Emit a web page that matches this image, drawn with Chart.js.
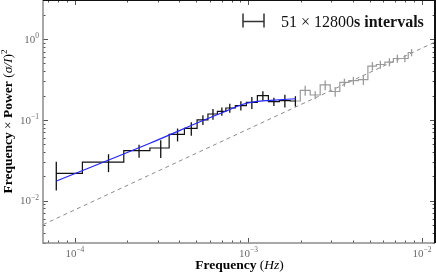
<!DOCTYPE html>
<html>
<head>
<meta charset="utf-8">
<script src="https://cdn.jsdelivr.net/npm/chart.js@4.4.1/dist/chart.umd.min.js"></script>
<style>
  html, body { margin: 0; padding: 0; background: #fff; }
  #wrap { width: 436px; height: 274px; }
</style>
</head>
<body>
<div id="wrap"><canvas id="psd" width="436" height="274"></canvas></div>
<script>
// binned power spectrum (freq * power), black = fitted range, grey = above it
const freqFit = [7.8125e-5, 1.5625e-4, 2.34375e-4, 3.125e-4, 3.90625e-4, 4.6875e-4, 5.46875e-4, 6.25e-4,
  7.03125e-4, 7.8125e-4, 9.05e-4, 1.047e-3, 1.212e-3, 1.403e-3, 1.623e-3, 1.866e-3];
const powerFit = [0.0218, 0.030, 0.0415, 0.0448, 0.066, 0.0785, 0.100, 0.118,
  0.127, 0.140, 0.150, 0.164, 0.199, 0.168, 0.173, 0.171];
const errFit = [0.0085, 0.0075, 0.0075, 0.011, 0.012, 0.015, 0.014, 0.018,
  0.015, 0.018, 0.02, 0.028, 0.027, 0.02, 0.031, 0.025];

const freqHigh = [1.866e-3, 2.125e-3, 2.427e-3, 2.771e-3, 3.165e-3, 3.576e-3, 4.028e-3, 4.60e-3,
  5.185e-3, 5.765e-3, 6.497e-3, 7.224e-3, 7.98e-3, 8.72e-3];
const powerHigh = [0.171, 0.231, 0.203, 0.270, 0.224, 0.290, 0.306, 0.315,
  0.463, 0.484, 0.519, 0.574, 0.574, 0.681];
const errHigh = [null, 0.033, 0.023, 0.037, 0.031, 0.033, 0.035, 0.045,
  0.055, 0.055, 0.06, 0.065, 0.06, 0.07];

// model fit (blue)
const modelFreq = [7.84e-5, 2.705e-4, 5.47e-4, 7.54e-4, 9.2e-4, 1.097e-3, 1.339e-3, 1.878e-3];
const modelPower = [0.0175, 0.0512, 0.098, 0.130, 0.1546, 0.168, 0.174, 0.1824];

// poisson noise level: f*P = noiseNorm * f
const noiseNorm = 77;

const xRange = [6.55e-5, 1.19e-2];
const yRange = [0.00299, 3.04];
const xTicks = [1e-4, 1e-3, 1e-2];
const xTickExp = ['\u22124', '\u22123', '\u22122'];
const yTicks = [1e-2, 1e-1, 1];
const yTickExp = ['\u22122', '\u22121', '0'];

const SERIF = '"Liberation Serif", "DejaVu Serif", serif';

function pts(xs, ys) {
  return xs.map((v, i) => ({ x: v, y: ys[i] }));
}

function rich(ctx, parts, x, y, align) {
  let w = 0;
  parts.forEach(p => { ctx.font = p.f; p.w = ctx.measureText(p.t).width; w += p.w; });
  let cx = align === 'center' ? x - w / 2 : (align === 'right' ? x - w : x);
  parts.forEach(p => {
    ctx.font = p.f;
    ctx.fillText(p.t, cx, y + (p.dy || 0));
    cx += p.w;
  });
}

function minorTicks(lo, hi) {
  const out = [];
  for (let d = Math.floor(Math.log10(lo)); d <= Math.ceil(Math.log10(hi)); d++) {
    for (let m = 2; m <= 9; m++) {
      const v = m * Math.pow(10, d);
      if (v > lo && v < hi) out.push(v);
    }
  }
  return out;
}

const decor = {
  id: 'decor',
  afterDatasetDraw(chart, args) {
    const ds = chart.data.datasets[args.index];
    if (!ds.errors) return;
    const { ctx, chartArea: a, scales: { x, y } } = chart;
    ctx.save();
    ctx.beginPath();
    ctx.rect(a.left, a.top, a.right - a.left, a.bottom - a.top);
    ctx.clip();
    ctx.strokeStyle = ds.borderColor;
    ctx.lineWidth = 1.3;
    ds.data.forEach((p, i) => {
      const e = ds.errors[i];
      if (e == null) return;
      const px = x.getPixelForValue(p.x);
      ctx.beginPath();
      ctx.moveTo(px, y.getPixelForValue(p.y - e));
      ctx.lineTo(px, y.getPixelForValue(p.y + e));
      ctx.stroke();
    });
    ctx.restore();
  },
  afterDraw(chart) {
    const { ctx, chartArea: a, scales: { x, y } } = chart;
    ctx.save();

    // ticks, inside on all four sides
    ctx.strokeStyle = '#555';
    ctx.lineWidth = 1;
    const tickX = (v, len) => {
      const px = Math.round(x.getPixelForValue(v)) + 0.5;
      ctx.beginPath();
      ctx.moveTo(px, a.bottom); ctx.lineTo(px, a.bottom - len);
      ctx.moveTo(px, a.top); ctx.lineTo(px, a.top + len);
      ctx.stroke();
    };
    const tickY = (v, len) => {
      const py = Math.round(y.getPixelForValue(v)) + 0.5;
      ctx.beginPath();
      ctx.moveTo(a.left, py); ctx.lineTo(a.left + len, py);
      ctx.moveTo(a.right, py); ctx.lineTo(a.right - len, py);
      ctx.stroke();
    };
    xTicks.forEach(v => tickX(v, 5));
    minorTicks(xRange[0], xRange[1]).forEach(v => tickX(v, 2.5));
    yTicks.forEach(v => tickY(v, 5));
    minorTicks(yRange[0], yRange[1]).forEach(v => tickY(v, 2.5));

    // spines
    ctx.lineWidth = 1.5;
    ctx.strokeStyle = '#8c8c8c';
    ctx.beginPath();
    ctx.moveTo(a.left, a.top); ctx.lineTo(a.left, a.bottom); ctx.lineTo(a.right, a.bottom);
    ctx.stroke();
    ctx.lineWidth = 2;
    ctx.strokeStyle = '#111';
    ctx.beginPath();
    ctx.moveTo(a.left, a.top); ctx.lineTo(a.right, a.top); ctx.lineTo(a.right, a.bottom);
    ctx.stroke();

    // tick labels
    ctx.fillStyle = '#6a6a6a';
    ctx.textBaseline = 'alphabetic';
    const base = '11px ' + SERIF, sup = '7.5px ' + SERIF;
    xTicks.forEach((v, i) => {
      rich(ctx, [{ t: '10', f: base }, { t: xTickExp[i], f: sup, dy: -4.5 }],
        x.getPixelForValue(v), 256.5, 'center');
    });
    yTicks.forEach((v, i) => {
      const py = y.getPixelForValue(v);
      rich(ctx, [{ t: '10', f: base }, { t: yTickExp[i], f: sup, dy: -4.5 }],
        a.left - 4, py + 3.8, 'right');
    });

    // axis titles
    ctx.fillStyle = '#000';
    const b = 'bold 13.5px ' + SERIF, r = '13.5px ' + SERIF, it = 'italic 13.5px ' + SERIF;
    rich(ctx, [{ t: 'Frequency', f: b }, { t: ' (', f: r }, { t: 'Hz', f: it }, { t: ')', f: r }],
      (a.left + a.right) / 2 + 0.5, 269, 'center');
    ctx.save();
    ctx.translate(11.5, (a.top + a.bottom) / 2);
    ctx.rotate(-Math.PI / 2);
    rich(ctx, [{ t: 'Frequency', f: b }, { t: ' \u00d7 ', f: r }, { t: 'Power', f: b },
      { t: ' (', f: r }, { t: '\u03c3/I', f: it }, { t: ')', f: r }, { t: '2', f: '9px ' + SERIF, dy: -5 }],
      0, 0, 'center');
    ctx.restore();

    // legend
    ctx.strokeStyle = '#333';
    ctx.lineWidth = 1.5;
    ctx.beginPath();
    ctx.moveTo(243, 21.5); ctx.lineTo(264, 21.5);
    ctx.moveTo(243, 13.5); ctx.lineTo(243, 27.5);
    ctx.moveTo(264, 13.5); ctx.lineTo(264, 27.5);
    ctx.stroke();
    ctx.fillStyle = '#111';
    rich(ctx, [{ t: '51 \u00d7 12800', f: '16px ' + SERIF }, { t: 's intervals', f: 'bold 16px ' + SERIF }],
      281, 26.5, 'left');

    ctx.restore();
  }
};

new Chart(document.getElementById('psd'), {
  type: 'line',
  data: {
    datasets: [
      {
        data: pts(modelFreq, modelPower),
        borderColor: '#2424ff',
        borderWidth: 1.2,
        pointRadius: 0,
        cubicInterpolationMode: 'monotone',
        order: 0
      },
      {
        data: pts(freqFit, powerFit),
        errors: errFit,
        borderColor: '#111',
        borderWidth: 1.2,
        pointRadius: 0,
        stepped: 'middle',
        order: 1
      },
      {
        data: pts(freqHigh, powerHigh),
        errors: errHigh,
        borderColor: '#9a9a9a',
        borderWidth: 1.2,
        pointRadius: 0,
        stepped: 'middle',
        order: 2
      },
      {
        data: xRange.map(f => ({ x: f, y: noiseNorm * f })),
        borderColor: '#8a8a8a',
        borderWidth: 1,
        borderDash: [4, 3.5],
        pointRadius: 0,
        order: 3
      }
    ]
  },
  options: {
    responsive: false,
    animation: false,
    devicePixelRatio: 1,
    layout: { padding: { left: 43, right: 1, top: 0, bottom: 31 } },
    scales: {
      x: { type: 'logarithmic', min: xRange[0], max: xRange[1], display: false },
      y: { type: 'logarithmic', min: yRange[0], max: yRange[1], display: false }
    },
    plugins: { legend: { display: false }, tooltip: { enabled: false } }
  },
  plugins: [decor]
});
</script>
</body>
</html>
